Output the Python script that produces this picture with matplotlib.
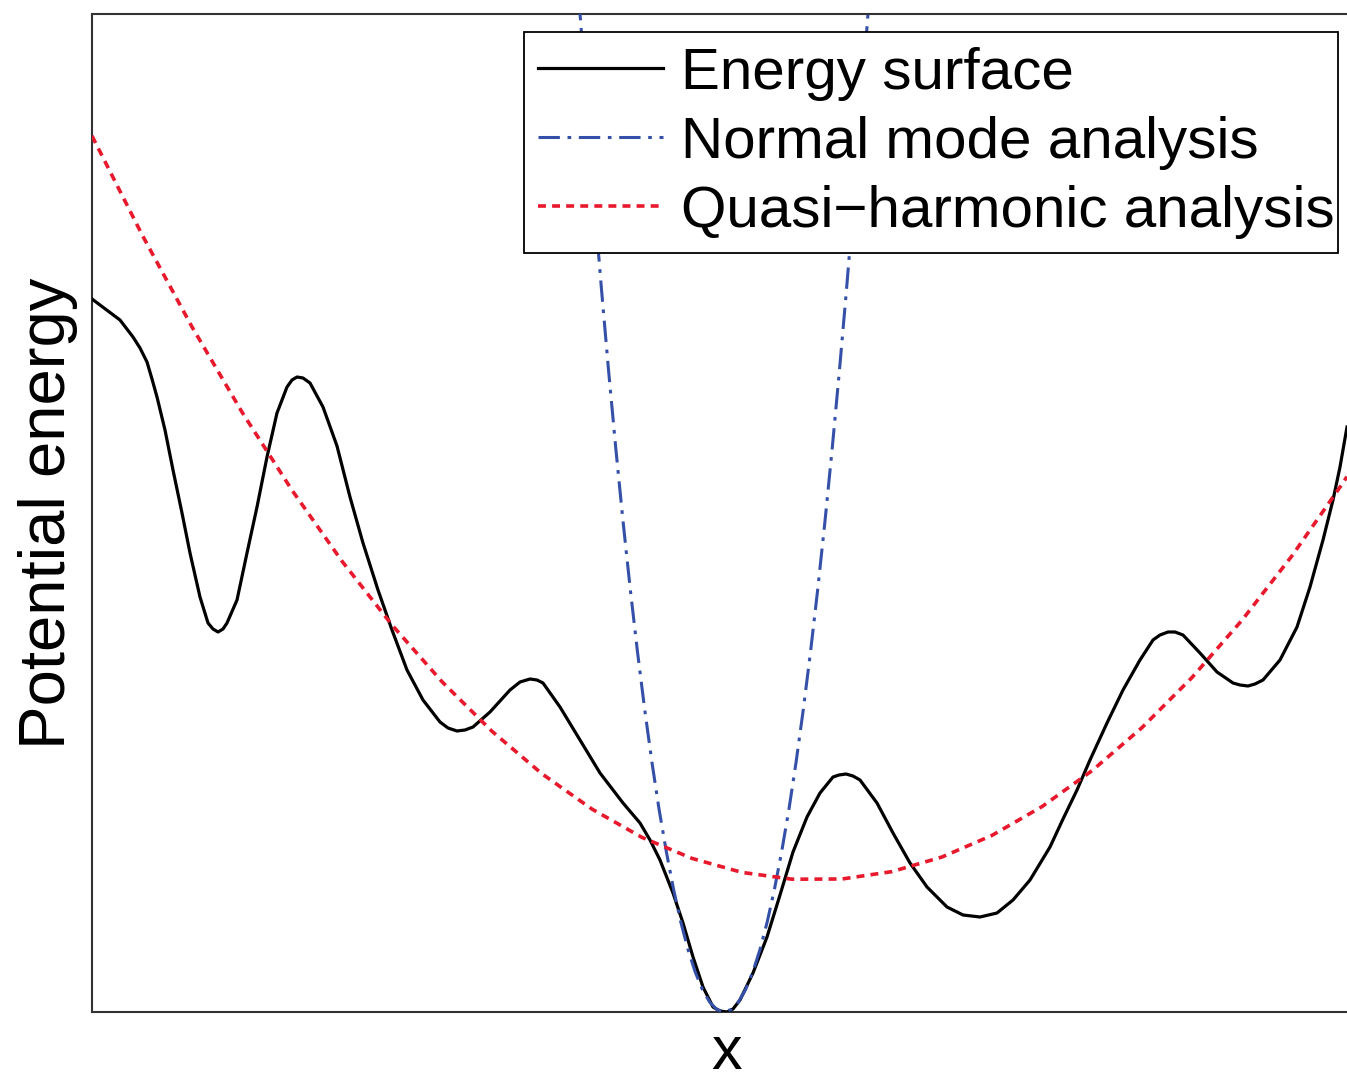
import matplotlib
matplotlib.use("Agg")
import matplotlib.pyplot as plt

plt.rcParams['font.family'] = ['Liberation Sans', 'DejaVu Sans']

# Values, in arbitrary units (x: 0..1255, energy: 0..998)
energy_x = [0, 28, 41, 48, 55, 60, 65, 73, 81, 90, 98, 108, 116, 121, 126, 131, 135, 145,
            155, 165, 175, 185, 195, 200, 205, 211, 218, 231, 245, 258, 271, 286, 300, 315,
            331, 348, 356, 365, 373, 381, 398, 418, 428, 438, 445, 451, 468, 488, 508, 531,
            548, 558, 568, 581, 591, 601, 611, 621, 628, 635, 641, 648, 661, 675, 688, 701,
            715, 728, 741, 747, 754, 761, 768, 785, 801, 818, 835, 855, 871, 888, 905, 921,
            938, 958, 971, 985, 998, 1015, 1031, 1048, 1061, 1068, 1076, 1083, 1091, 1108,
            1125, 1141, 1148, 1156, 1163, 1171, 1188, 1205, 1218, 1231, 1241, 1248, 1255]
energy_y = [713, 692, 675, 664, 650, 633, 615, 582, 542, 499, 459, 415, 389, 383, 380, 383,
            389, 412, 459, 505, 555, 599, 625, 632, 635, 634, 629, 605, 566, 515, 469, 422,
            382, 342, 312, 290, 284, 281, 282, 285, 300, 322, 330, 333, 332, 329, 305, 272,
            239, 209, 189, 172, 152, 119, 89, 55, 25, 5, 1, 0, 3, 12, 39, 75, 117, 160,
            195, 219, 235, 237, 238, 236, 232, 209, 179, 149, 125, 105, 97, 95, 99, 112,
            132, 165, 193, 222, 252, 289, 322, 352, 372, 377, 380, 380, 377, 359, 340, 329,
            327, 326, 328, 332, 352, 385, 425, 472, 512, 545, 585]

normal_x = [480.7, 487.9, 495.1, 502.3, 509.5, 516.7, 523.9, 531.1, 538.3, 545.5, 552.7,
            559.9, 567.1, 574.4, 581.6, 588.8, 596.0, 603.2, 610.4, 617.6, 624.8, 632.0,
            639.2, 646.4, 653.6, 660.8, 668.0, 675.2, 682.4, 689.6, 696.9, 704.1, 711.3,
            718.5, 725.7, 732.9, 740.1, 747.3, 754.5, 761.7, 768.9, 776.1, 783.3]
normal_y = [1102.5, 1000, 902.5, 810, 722.5, 640, 562.5, 490, 422.5, 360, 302.5, 250,
            202.5, 160, 122.5, 90, 62.5, 40, 22.5, 10, 2.5, 0,
            2.5, 10, 22.5, 40, 62.5, 90, 122.5, 160, 202.5, 250, 302.5, 360, 422.5, 490,
            562.5, 640, 722.5, 810, 902.5, 1000, 1102.5]

quasi_x = [0, 50, 100, 150, 200, 250, 300, 350, 400, 450, 500, 550, 600, 650, 700, 750,
           800, 850, 900, 950, 1000, 1050, 1100, 1150, 1200, 1250, 1255]
quasi_y = [876.1, 777.4, 685.1, 599.9, 521.8, 450.8, 387.0, 330.3, 280.7, 238.2, 202.9,
           174.6, 153.6, 139.6, 132.8, 133.0, 140.4, 155.0, 176.6, 205.4, 241.3, 284.4,
           334.5, 391.8, 456.2, 527.8, 535.3]

labels = ['Energy surface', 'Normal mode analysis', 'Quasi\u2212harmonic analysis']
xlabel = 'x'
ylabel = 'Potential energy'

fig = plt.figure(figsize=(13.47, 10.80), dpi=100)
ax = fig.add_axes([92/1347, 68/1080, 1 - 92/1347, 998/1080])

ax.plot(energy_x, energy_y, color='black', lw=2.3, label=labels[0], zorder=3,
        solid_joinstyle='round')
ax.plot(normal_x, normal_y, color='#3450a8', lw=2.2, ls=(0, (7, 2.5, 1.2, 2.5)),
        label=labels[1], zorder=4)
ax.plot(quasi_x, quasi_y, color='#e8192c', lw=2.6, ls=(0, (2.2, 1.7)),
        label=labels[2], zorder=5)

ax.set_xlim(0, 1255)
ax.set_ylim(0, 998)
ax.set_xticks([])
ax.set_yticks([])
for s in ['left', 'bottom', 'top']:
    ax.spines[s].set_color('#333333')
    ax.spines[s].set_linewidth(1.5)
ax.spines['right'].set_visible(False)

fig.text(727/1347, (1080 - 1069)/1080, xlabel, fontsize=44, ha='center', va='baseline')
ax.set_ylabel(ylabel, fontsize=47, labelpad=10)

leg = ax.legend(loc='upper left', bbox_to_anchor=(0.344, 0.760, 0.649, 0.222),
                mode='expand', borderaxespad=0, fontsize=42, handlelength=2.13,
                handletextpad=0.31, labelspacing=0.26, borderpad=0.25,
                fancybox=False, framealpha=1, edgecolor='black')
leg.get_frame().set_linewidth(1.3)

fig.savefig('out.png', dpi=100)
